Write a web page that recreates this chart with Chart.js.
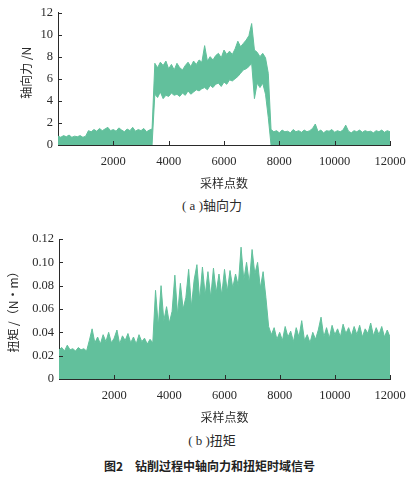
<!DOCTYPE html>
<html>
<head>
<meta charset="utf-8">
<script src="https://cdn.jsdelivr.net/npm/chart.js@4/dist/chart.umd.min.js"></script>
<style>
    body { margin: 0; background: #fff; }
    #page { position: relative; width: 416px; height: 484px; overflow: hidden; background: #fff; }
    .box { position: absolute; left: 0; }
    .caption { position: absolute; text-align: center; color: #2a2a2a; font-size: 13px; line-height: 16px;
        font-family: 'Times New Roman', 'Liberation Serif', 'Noto Sans CJK SC', serif; white-space: nowrap; }
    #figCaption { position: absolute; left: 104px; top: 458px; font-size: 12px; line-height: 16px; font-weight: bold;
        color: #222; font-family: 'Noto Sans CJK SC', sans-serif; white-space: nowrap; }
</style>
</head>
<body>
<div id="page">
    <div class="box" style="top:0px"><canvas id="forceChart" width="416" height="195"></canvas></div>
    <div class="caption" style="left:142px; top:198px; width:140px">( a )轴向力</div>
    <div class="box" style="top:225px"><canvas id="torqueChart" width="416" height="205"></canvas></div>
    <div class="caption" style="left:142px; top:433px; width:140px">( b )扭矩</div>
    <div id="figCaption">图2　钻削过程中轴向力和扭矩时域信号</div>
</div>
<script>
// sample index of every reading (one reading per 100 samples)
const samples = [
    0, 100, 200, 300, 400, 500, 600, 700, 800, 900, 1000, 1100, 1200, 1300, 1400, 1500, 1600, 1700, 1800, 1900,
    2000, 2100, 2200, 2300, 2400, 2500, 2600, 2700, 2800, 2900, 3000, 3100, 3200, 3300, 3400, 3500, 3600, 3700, 3800, 3900,
    4000, 4100, 4200, 4300, 4400, 4500, 4600, 4700, 4800, 4900, 5000, 5100, 5200, 5300, 5400, 5500, 5600, 5700, 5800, 5900,
    6000, 6100, 6200, 6300, 6400, 6500, 6600, 6700, 6800, 6900, 7000, 7100, 7200, 7300, 7400, 7500, 7600, 7700, 7800, 7900,
    8000, 8100, 8200, 8300, 8400, 8500, 8600, 8700, 8800, 8900, 9000, 9100, 9200, 9300, 9400, 9500, 9600, 9700, 9800, 9900,
    10000, 10100, 10200, 10300, 10400, 10500, 10600, 10700, 10800, 10900, 11000, 11100, 11200, 11300, 11400, 11500, 11600, 11700, 11800, 11900,
    12000
];

// axial force (N): top and bottom of the noise band
const forceUpper = [
    0.8, 0.7, 0.85, 0.75, 0.9, 0.7, 0.8, 0.75, 0.85, 0.7, 0.8,
    1.3, 1.2, 1.4, 1.25, 1.5, 1.3, 1.45, 1.6, 1.3, 1.4, 1.25, 1.55, 1.35, 1.2, 1.45, 1.3, 1.6, 1.25, 1.4, 1.3, 1.5, 1.2, 1.35, 1.45,
    7.4, 7.0, 7.5, 7.2, 7.6, 6.9, 7.3, 6.8, 7.4, 7.0, 6.8, 7.2, 7.5, 7.1, 7.6, 7.3, 7.7, 7.5, 9.0, 7.6, 8.0,
    7.7, 8.1, 8.3, 7.9, 8.6, 8.2, 8.5, 8.2, 8.7, 9.4, 8.9, 9.2, 9.5, 9.9, 11.0, 8.6, 8.4, 8.0, 8.3, 7.9, 6.5,
    1.4, 1.2, 1.3, 1.1, 1.35, 1.2, 1.25, 1.1, 1.4, 1.2, 1.3, 1.15, 1.35, 1.2, 1.3, 1.5, 1.9, 1.2, 1.35, 1.1, 1.3, 1.25,
    1.4, 1.15, 1.3, 1.2, 1.35, 1.8, 1.25, 1.1, 1.3, 1.2, 1.35, 1.15, 1.3, 1.2, 1.25, 1.1, 1.3, 1.2, 1.35, 1.15, 1.3, 1.2
];
const forceLower = [
    0, 0, 0, 0, 0, 0, 0, 0, 0, 0, 0,
    0, 0, 0, 0, 0, 0, 0, 0, 0, 0, 0, 0, 0, 0, 0, 0, 0, 0, 0, 0, 0, 0, 0, 0,
    4.6, 4.3, 4.8, 4.2, 4.5, 4.4, 4.7, 4.5, 4.6, 4.4, 4.7, 4.5, 4.9, 4.6, 4.8, 5.0, 4.9, 5.1, 5.2, 5.0, 5.4,
    5.2, 5.5, 5.6, 5.3, 5.7, 5.5, 5.9, 5.8, 6.0, 6.2, 6.5, 6.8, 6.9, 7.1, 7.4, 4.2, 5.6, 5.2, 5.6, 4.6, 2.5,
    0, 0, 0, 0, 0, 0, 0, 0, 0, 0, 0, 0, 0, 0, 0, 0, 0, 0, 0, 0, 0, 0,
    0, 0, 0, 0, 0, 0, 0, 0, 0, 0, 0, 0, 0, 0, 0, 0, 0, 0, 0, 0, 0, 0
];

// torque (N·m): top of the noise band, the band reaches down to 0
const torqueUpper = [
    0.025, 0.027, 0.024, 0.029, 0.025, 0.026, 0.024, 0.027, 0.025, 0.026, 0.024,
    0.033, 0.043, 0.031, 0.036, 0.030, 0.038, 0.032, 0.040, 0.031, 0.035, 0.042, 0.030,
    0.037, 0.033, 0.039, 0.031, 0.036, 0.030, 0.038, 0.032, 0.035, 0.030, 0.034, 0.031,
    0.076, 0.045, 0.080, 0.050, 0.062, 0.048, 0.058, 0.089, 0.055, 0.082, 0.060, 0.070, 0.094, 0.062,
    0.085, 0.098, 0.068, 0.096, 0.072, 0.092, 0.070, 0.095, 0.074, 0.090, 0.072, 0.094, 0.075, 0.093,
    0.078, 0.090, 0.080, 0.113, 0.085, 0.100, 0.082, 0.111, 0.090, 0.100, 0.078, 0.092, 0.070,
    0.045, 0.038, 0.044, 0.034, 0.040, 0.033, 0.045, 0.036, 0.041, 0.032, 0.044, 0.036, 0.050, 0.033, 0.038,
    0.031, 0.040, 0.034, 0.042, 0.053, 0.036, 0.044, 0.035, 0.046, 0.038, 0.043, 0.036, 0.047, 0.039, 0.044,
    0.037, 0.045, 0.038, 0.046, 0.036, 0.043, 0.039, 0.048, 0.037, 0.044, 0.038, 0.045, 0.036, 0.042, 0.036
];

// tick labels
const sampleTicks = [2000, 4000, 6000, 8000, 10000, 12000];
const forceTicks = [0, 2, 4, 6, 8, 10, 12];
const torqueTicks = [0, 0.02, 0.04, 0.06, 0.08, 0.10, 0.12];

const GREEN = 'rgb(98, 192, 156)';
const INK = '#2a2a2a';
const NUM_FONT = { family: "'Times New Roman', 'Liberation Serif', serif", size: 12.5 };
const CJK_FONT = { family: "'Noto Sans CJK SC', sans-serif", size: 12 };

// short tick marks that point into the plot
const inwardTicks = {
    id: 'inwardTicks',
    afterDatasetsDraw(chart) {
        const { ctx, chartArea } = chart;
        const { x, y } = chart.scales;
        ctx.save();
        ctx.strokeStyle = INK;
        ctx.lineWidth = 1;
        ctx.beginPath();
        x.ticks.forEach(t => {
            const px = Math.round(x.getPixelForValue(t.value)) + 0.5;
            ctx.moveTo(px, chartArea.bottom);
            ctx.lineTo(px, chartArea.bottom - 4);
        });
        y.ticks.forEach(t => {
            const py = Math.round(y.getPixelForValue(t.value)) + 0.5;
            ctx.moveTo(chartArea.left, py);
            ctx.lineTo(chartArea.left + 4, py);
        });
        ctx.stroke();
        ctx.restore();
    }
};

const toPoints = (values) => samples.map((s, i) => ({ x: s, y: values[i] }));

const bandLine = (values, fill) => ({
    data: toPoints(values),
    borderColor: GREEN,
    backgroundColor: GREEN,
    borderWidth: 1,
    pointRadius: 0,
    tension: 0,
    fill: fill
});

// build the options shared by both panels
const panelOptions = (p) => ({
    responsive: false,
    animation: false,
    events: [],
    layout: { padding: { top: p.top, right: 26, left: 0, bottom: 0 } },
    plugins: { legend: { display: false }, tooltip: { enabled: false } },
    scales: {
        x: {
            type: 'linear',
            min: 0,
            max: 12000,
            z: 1,
            afterBuildTicks: s => { s.ticks = sampleTicks.map(v => ({ value: v })); },
            afterFit: s => { s.height = p.xHeight; },
            ticks: { font: NUM_FONT, color: INK, padding: p.xPad, maxRotation: 0, autoSkip: false, callback: v => String(v) },
            grid: { display: false, drawTicks: false },
            border: { display: true, color: INK, width: 1 },
            title: { display: true, text: '采样点数', font: CJK_FONT, color: INK, padding: { top: 0, bottom: p.xTitlePad } }
        },
        y: {
            min: 0,
            max: p.yTicks[p.yTicks.length - 1],
            z: 1,
            afterBuildTicks: s => { s.ticks = p.yTicks.map(v => ({ value: v })); },
            afterFit: s => { s.width = p.yWidth; },
            ticks: { font: NUM_FONT, color: INK, padding: 5, callback: p.yLabel },
            grid: { display: false, drawTicks: false },
            border: { display: true, color: INK, width: 1 },
            title: { display: true, text: p.yTitle, font: CJK_FONT, color: INK, padding: { top: p.yTitlePad, bottom: 0 } }
        }
    }
});

new Chart('forceChart', {
    type: 'line',
    data: { datasets: [bandLine(forceLower, false), bandLine(forceUpper, '-1')] },
    options: panelOptions({
        top: 11, xHeight: 50, xPad: 9, xTitlePad: 4.8, yWidth: 58, yTitlePad: 19.5,
        yTicks: forceTicks, yTitle: '\u2002\u2002轴向力 /N', yLabel: v => String(v)
    }),
    plugins: [inwardTicks]
});

new Chart('torqueChart', {
    type: 'line',
    data: { datasets: [bandLine(torqueUpper, 'origin')] },
    options: panelOptions({
        top: 14, xHeight: 51, xPad: 9, xTitlePad: 5.8, yWidth: 59, yTitlePad: 6.1,
        yTicks: torqueTicks, yTitle: '扭矩 /（N·m）', yLabel: v => (v === 0 ? '0' : v.toFixed(2))
    }),
    plugins: [inwardTicks]
});
</script>
</body>
</html>
